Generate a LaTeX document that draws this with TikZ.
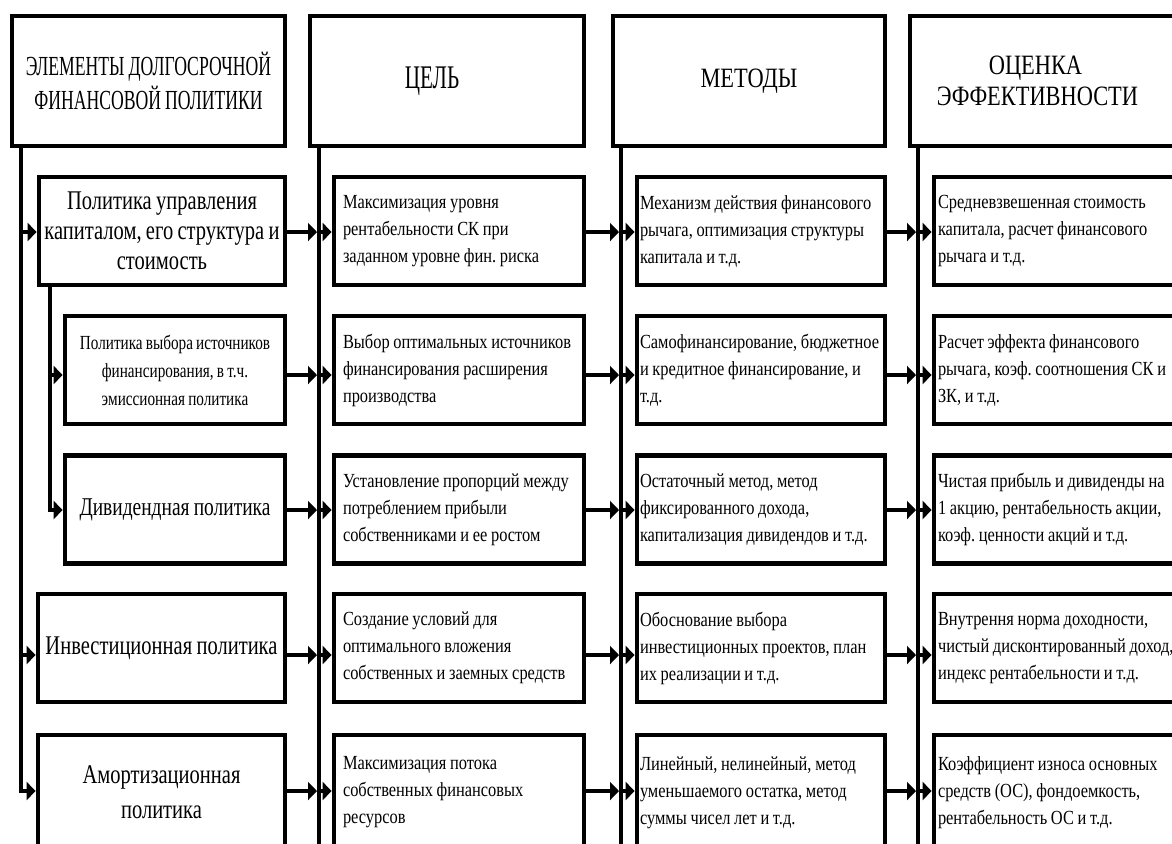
\documentclass[tikz,border=0pt]{standalone}
\usepackage{fontspec}
\setmainfont{Liberation Serif}
\newfontfamily\hdA{Liberation Serif}[FakeStretch=0.64, WordSpace=0.9]
\newfontfamily\hdB{Liberation Serif}[FakeStretch=0.8, WordSpace=0.9]
\newfontfamily\lfam{Liberation Serif}[FakeStretch=0.76, WordSpace=0.85]
\newfontfamily\bfam{Liberation Serif}[FakeStretch=0.82, WordSpace=0.9]
\usetikzlibrary{arrows.meta}
\begin{document}
\frenchspacing
\begin{tikzpicture}[x=0.5pt,y=-0.5pt,
  box/.style={draw, line width=2.4pt, rectangle, inner ysep=0pt},
  hbox/.style={box, minimum height=65pt, align=center},
  lbox/.style={box, align=center, minimum height=54pt, inner xsep=1pt},
  cbody/.style={box, minimum height=54pt, align=flush left, font=\bfam\fontsize{10}{13.5}\selectfont},
  ctwo/.style={cbody, inner xsep=4.5pt, text width=116pt},
  cthree/.style={cbody, inner xsep=1.5pt, text width=121pt},
  cfour/.style={cbody, inner xsep=2pt, text width=121.5pt},
  wire/.style={line width=2pt},
  conn/.style={line width=2pt, -{Triangle[width=9pt,length=4.5pt]}},
]
\useasboundingbox (0,0) rectangle (1172,843);
\clip (0,0) rectangle (1172,843);
\fill[white] (0,0) rectangle (1172,843);

% headers
\node[hbox, minimum width=136.5pt, font=\hdA\fontsize{13.8}{17}\selectfont] (h1) at (148.5,81) {ЭЛЕМЕНТЫ ДОЛГОСРОЧНОЙ\\ФИНАНСОВОЙ ПОЛИТИКИ};
\node[hbox, minimum width=137pt, font=\hdA\fontsize{16.5}{18}\selectfont] (h2) at (447,81) {ЦЕЛЬ\hspace*{15pt}};
\node[hbox, minimum width=136pt, font=\hdB\fontsize{14}{16}\selectfont] (h3) at (749,81) {МЕТОДЫ};
\node[hbox, minimum width=137.5pt, font=\hdB\fontsize{14}{15.5}\selectfont] (h4) at (1047.5,81) {ОЦЕНКА\hspace*{12pt}\\ЭФФЕКТИВНОСТИ\hspace*{10pt}};

% column 1
\node[lbox, minimum width=123pt, font=\lfam\fontsize{13.5}{15}\selectfont] (a1) at (162,231) {Политика управления\\капиталом, его структура и\\стоимость};
\node[lbox, minimum width=110pt, font=\lfam\fontsize{10}{14}\selectfont] (b1) at (175,370) {Политика выбора источников\\финансирования, в т.ч.\\эмиссионная политика};
\node[lbox, minimum width=110pt, font=\lfam\fontsize{12.8}{15}\selectfont] (c1) at (175,509.5) {Дивидендная политика};
\node[lbox, minimum width=123.5pt, font=\lfam\fontsize{13.5}{15}\selectfont] (d1) at (161.5,648) {Инвестиционная политика};
\node[lbox, minimum width=123.5pt, minimum height=57.5pt, font=\lfam\fontsize{13.5}{17.5}\selectfont] (e1) at (161.5,792.5) {Амортизационная\\политика};

% column 2
\node[ctwo] (p1) at (459,231) {Максимизация уровня\\рентабельности СК при\\заданном уровне фин. риска};
\node[ctwo] (p2) at (459,370) {Выбор оптимальных источников\\финансирования расширения\\производства};
\node[ctwo] (p3) at (459,509.5) {Установление пропорций между\\потреблением прибыли\\собственниками и ее ростом};
\node[ctwo] (p4) at (459,648) {Создание условий для\\оптимального вложения\\собственных и заемных средств};
\node[ctwo, minimum height=57.5pt] (p5) at (459,792.5) {Максимизация потока\\собственных финансовых\\ресурсов};

% column 3
\node[cthree] (m1) at (761,231) {Механизм действия финансового\\рычага, оптимизация структуры\\капитала и т.д.};
\node[cthree] (m2) at (761,370) {Самофинансирование, бюджетное\\и кредитное финансирование, и\\т.д.};
\node[cthree] (m3) at (761,509.5) {Остаточный метод, метод\\фиксированного дохода,\\капитализация дивидендов и т.д.};
\node[cthree] (m4) at (761,648) {Обоснование выбора\\инвестиционных проектов, план\\их реализации и т.д.};
\node[cthree, minimum height=57.5pt] (m5) at (761,792.5) {Линейный, нелинейный, метод\\уменьшаемого остатка, метод\\суммы чисел лет и т.д.};

% column 4
\node[cfour] (q1) at (1059.5,231) {Средневзвешенная стоимость\\капитала, расчет финансового\\рычага и т.д.};
\node[cfour] (q2) at (1059.5,370) {Расчет эффекта финансового\\рычага, коэф. соотношения СК и\\ЗК, и т.д.};
\node[cfour] (q3) at (1059.5,509.5) {Чистая прибыль и дивиденды на\\1 акцию, рентабельность акции,\\коэф. ценности акций и т.д.};
\node[cfour] (q4) at (1059.5,648) {Внутрення норма доходности,\\чистый дисконтированный доход,\\индекс рентабельности и т.д.};
\node[cfour, minimum height=57.5pt] (q5) at (1059.5,792.5) {Коэффициент износа основных\\средств (ОС), фондоемкость,\\рентабельность ОС и т.д.};

% coordinates
\coordinate (r1) at (0,232);
\coordinate (r2) at (0,375);
\coordinate (r3) at (0,510);
\coordinate (r4) at (0,655);
\coordinate (r5) at (0,791);
\coordinate (t1) at (20.5,0);
\coordinate (s1) at (50,0);
\coordinate (t2) at (319,0);
\coordinate (t3) at (621,0);
\coordinate (t4) at (918,0);
\coordinate (bot) at (0,860);

% column 1 trunks
\draw[conn] (h1.south -| t1) -- (t1 |- r5) -- (e1.west |- r5);
\draw[conn] (t1 |- r1) -- (a1.west |- r1);
\draw[conn] (t1 |- r4) -- (d1.west |- r4);
\draw[conn] (a1.south -| s1) -- (s1 |- r3) -- (c1.west |- r3);
\draw[conn] (s1 |- r2) -- (b1.west |- r2);

% other trunks
\draw[wire] (h2.south -| t2) -- (t2 |- bot);
\draw[wire] (h3.south -| t3) -- (t3 |- bot);
\draw[wire] (h4.south -| t4) -- (t4 |- bot);

% row connectors
\foreach \L/\R/\T/\r in {a1/p1/t2/r1, b1/p2/t2/r2, c1/p3/t2/r3, d1/p4/t2/r4, e1/p5/t2/r5,
                        p1/m1/t3/r1, p2/m2/t3/r2, p3/m3/t3/r3, p4/m4/t3/r4, p5/m5/t3/r5,
                        m1/q1/t4/r1, m2/q2/t4/r2, m3/q3/t4/r3, m4/q4/t4/r4, m5/q5/t4/r5}{
  \draw[conn, shorten >=1pt] (\L.east |- \r) -- (\T |- \r);
  \draw[conn] (\T |- \r) -- (\R.west |- \r);
}
\end{tikzpicture}
\end{document}
